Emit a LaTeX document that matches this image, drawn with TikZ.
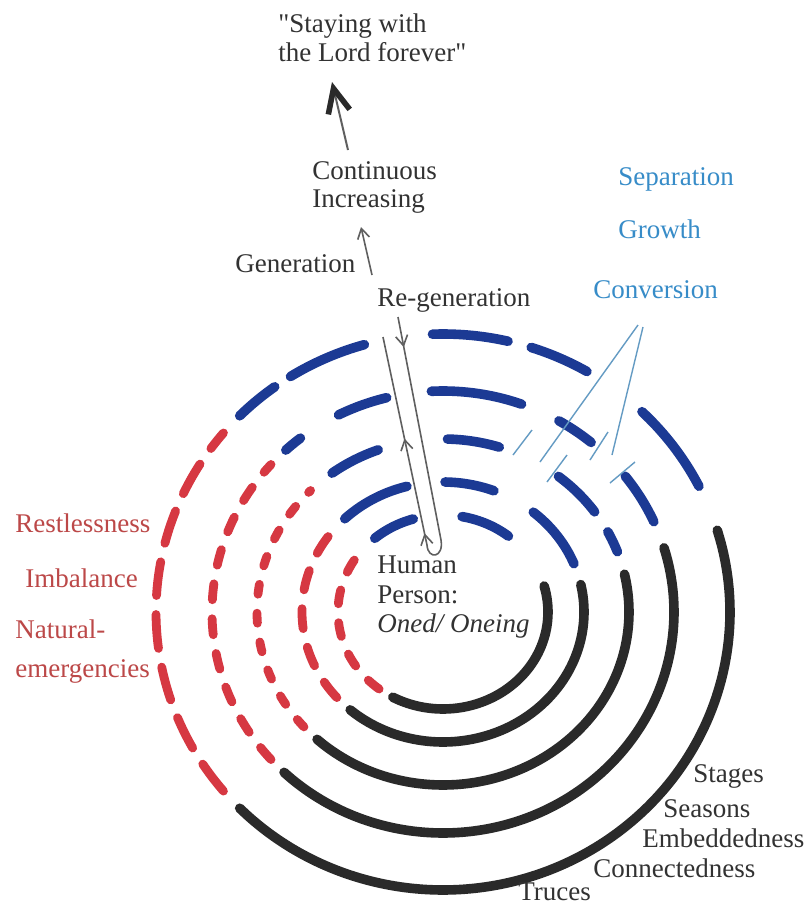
\documentclass[tikz,border=0pt]{standalone}
\usepackage{fontspec}
\setmainfont{Liberation Serif}
\newfontfamily\plainq{Liberation Serif}
\usetikzlibrary{arrows.meta,decorations.markings}
\definecolor{ringblue}{RGB}{28,58,148}
\definecolor{ringred}{RGB}{214,56,66}
\definecolor{ringblack}{RGB}{42,42,42}
\definecolor{txtdark}{RGB}{50,50,50}
\definecolor{txtred}{RGB}{188,72,72}
\definecolor{txtblue}{RGB}{55,140,200}
\definecolor{convline}{RGB}{100,155,195}
\definecolor{pencil}{RGB}{95,95,95}
% ring segment: {rx}{ry}{start}{end}{style}
\newcommand{\ringseg}[5]{%
  \pgfmathsetmacro{\rsd}{258/#1}%
  \pgfmathsetmacro{\rsa}{#3+\rsd}%
  \pgfmathsetmacro{\rsb}{#4-\rsd}%
  \draw[#5] plot[variable=\t, domain=\rsa:\rsb, samples=60, smooth] ({443+#1*cos(\t)},{612+#2*sin(\t)});%
}
\begin{document}
\begin{tikzpicture}[x=0.5pt,y=-0.5pt,
  lbl/.style={font=\fontsize{13.5}{16}\selectfont, inner sep=0pt, anchor=base west, text=txtdark},
  blueseg/.style={draw=ringblue, line width=4.8pt, line cap=round},
  blackseg/.style={draw=ringblack, line width=4.8pt, line cap=round},
  redseg/.style={draw=ringred, line width=4.4pt, line cap=round},
  pencilline/.style={draw=pencil, line width=0.8pt},
  convstroke/.style={draw=convline, line width=0.7pt}]
\fill[white] (0,0) rectangle (809,907);
\useasboundingbox (0,0) rectangle (809,907);

% ---------- ring 1 ----------
\ringseg{105}{97}{227}{256}{blueseg}
\ringseg{105}{97}{278}{311}{blueseg}
\ringseg{105}{97}{-18}{121}{blackseg}
\ringseg{105}{97}{125}{221}{redseg, dash pattern=on 7pt off 9.5pt}
% ---------- ring 2 ----------
\ringseg{141}{130}{224}{257}{blueseg}
\ringseg{141}{130}{269}{293}{blueseg}
\ringseg{141}{130}{308}{340}{blueseg}
\ringseg{141}{130}{-14}{133}{blackseg}
\ringseg{141}{130}{137}{220}{redseg, dash pattern=on 10pt off 9.5pt}
% ---------- ring 3 ----------
\ringseg{186}{173}{232}{251}{blueseg}
\ringseg{186}{173}{270}{289}{blueseg}
\ringseg{186}{173}{307}{326}{blueseg}
\ringseg{186}{173}{331}{341}{blueseg}
\ringseg{186}{173}{-14}{134}{blackseg}
\ringseg{186}{173}{137}{226}{redseg, dash pattern=on 5pt off 9.5pt}
% ---------- ring 4 ----------
\ringseg{231}{221}{226}{233}{blueseg}
\ringseg{231}{221}{242}{257}{blueseg}
\ringseg{231}{221}{266}{291}{blueseg}
\ringseg{231}{221}{299}{311}{blueseg}
\ringseg{231}{221}{321}{337}{blueseg}
\ringseg{231}{221}{-18}{134.6}{blackseg}
\ringseg{231}{221}{137}{223}{redseg, dash pattern=on 8pt off 9.5pt}
% ---------- ring 5 ----------
\ringseg{287}{278}{224}{235}{blueseg}
\ringseg{287}{278}{237}{255}{blueseg}
\ringseg{287}{278}{267}{284}{blueseg}
\ringseg{287}{278}{287}{301}{blueseg}
\ringseg{287}{278}{313}{334}{blueseg}
\ringseg{287}{278}{-18}{136}{blackseg}
\ringseg{287}{278}{139}{221}{redseg, dash pattern=on 17pt off 9.5pt}

% ---------- labels ----------
\node[lbl] (title1) at (278,32) {{\plainq"}Staying with};
\node[lbl] (title2) at (278,61) {the Lord forever{\plainq"}};
\node[lbl] (cont1) at (312,179) {Continuous};
\node[lbl] (cont2) at (312,207) {Increasing};
\node[lbl] (gen) at (235,272) {Generation};
\node[lbl] (regen) at (377,306) {Re-generation};
\node[lbl, text=txtblue] (sep) at (618,185) {Separation};
\node[lbl, text=txtblue] (grow) at (618,238) {Growth};
\node[lbl, text=txtblue] (conv) at (593,298) {Conversion};
\node[lbl, text=txtred] (rest) at (15,532) {Restlessness};
\node[lbl, text=txtred] (imb) at (25,587) {Imbalance};
\node[lbl, text=txtred] (nat1) at (15,638) {Natural-};
\node[lbl, text=txtred] (nat2) at (15,677) {emergencies};
\node[lbl] (hum1) at (377,573) {Human};
\node[lbl] (hum2) at (377,603) {Person:};
\node[lbl] (hum3) at (377,632) {\itshape Oned/ Oneing};
\node[lbl] (stg) at (693,782) {Stages};
\node[lbl] (sea) at (663,817) {Seasons};
\node[lbl] (emb) at (642,847) {Embeddedness};
\node[lbl] (con) at (593,877) {Connectedness};
\node[lbl] (tru) at (518,900) {Truces};

% ---------- upward arrows ----------
\coordinate (a1s) at (348,150);
\coordinate (a1e) at (332,82);
\draw[pencilline, line width=1pt, -{Straight Barb[length=12pt,width=11pt,line width=2.8pt,color=ringblack]}] (a1s) -- (a1e);
\coordinate (a2s) at (372,275);
\coordinate (a2e) at (361,227);
\draw[pencilline, -{Straight Barb[length=5pt,width=6pt]}] (a2s) -- (a2e);

% ---------- re-generation loop ----------
\coordinate (lpA) at (398,317);
\coordinate (lpB) at (441,540);
\coordinate (lpC) at (427,545);
\coordinate (lpD) at (383,337);
\draw[pencilline, postaction={decorate}, decoration={markings,
   mark=at position 0.065 with {\arrow{Straight Barb[length=5pt,width=6pt]}},
   mark=at position 0.575 with {\arrow{Straight Barb[length=5pt,width=6pt]}},
   mark=at position 0.78 with {\arrow{Straight Barb[length=5pt,width=6pt]}}}]
  (lpA) -- (lpB) .. controls (444,558) and (428,560) .. (lpC) -- (lpD);

% ---------- conversion pointers ----------
\coordinate (cvA) at (638,325);
\coordinate (cvB) at (643,327);
\coordinate (cvA2) at (540,462);
\coordinate (cvB2) at (612,455);
\draw[convstroke] (cvA) -- (cvA2);
\draw[convstroke] (cvB) -- (cvB2);
\coordinate (tk1a) at (532,430); \coordinate (tk1b) at (513,455);
\coordinate (tk2a) at (567,455); \coordinate (tk2b) at (547,482);
\coordinate (tk3a) at (608,432); \coordinate (tk3b) at (590,460);
\coordinate (tk4a) at (635,462); \coordinate (tk4b) at (610,483);
\draw[convstroke] (tk1a) -- (tk1b);
\draw[convstroke] (tk2a) -- (tk2b);
\draw[convstroke] (tk3a) -- (tk3b);
\draw[convstroke] (tk4a) -- (tk4b);
\end{tikzpicture}
\end{document}
